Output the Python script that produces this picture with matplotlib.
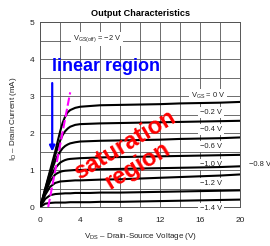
import matplotlib
matplotlib.use('Agg')
import matplotlib.pyplot as plt
from matplotlib.ticker import MultipleLocator

plt.rcParams['font.family'] = ['Liberation Sans', 'DejaVu Sans']
plt.rcParams['mathtext.fontset'] = 'custom'
plt.rcParams['mathtext.rm'] = 'Liberation Sans'

# VDS sample points (V)
vds = [0, 0.5, 1, 1.5, 1.75, 2, 2.25, 2.5, 2.75, 3, 3.5, 4, 5, 6, 8, 10, 12, 14, 16, 18, 20]

# ID (mA) for each VGS
id_0 = [0, 0.50, 1.00, 1.50, 1.78, 2.05, 2.28, 2.45, 2.56, 2.62, 2.68, 2.71, 2.73, 2.75, 2.76, 2.77, 2.78, 2.80, 2.81, 2.82, 2.84]
id_m02 = [0, 0.48, 0.95, 1.40, 1.61, 1.80, 1.95, 2.05, 2.12, 2.17, 2.22, 2.24, 2.25, 2.26, 2.27, 2.28, 2.29, 2.30, 2.31, 2.32, 2.33]
id_m04 = [0, 0.45, 0.88, 1.25, 1.39, 1.50, 1.59, 1.65, 1.69, 1.72, 1.75, 1.77, 1.78, 1.79, 1.80, 1.81, 1.82, 1.84, 1.85, 1.86, 1.88]
id_m06 = [0, 0.42, 0.80, 1.05, 1.13, 1.20, 1.24, 1.27, 1.29, 1.30, 1.31, 1.32, 1.33, 1.34, 1.35, 1.36, 1.37, 1.38, 1.39, 1.40, 1.41]
id_m08 = [0, 0.38, 0.70, 0.88, 0.92, 0.95, 0.97, 0.98, 0.985, 0.99, 1.00, 1.00, 1.01, 1.02, 1.03, 1.04, 1.05, 1.06, 1.07, 1.08, 1.10]
id_m10 = [0, 0.33, 0.55, 0.65, 0.67, 0.69, 0.695, 0.70, 0.705, 0.71, 0.72, 0.72, 0.73, 0.74, 0.75, 0.77, 0.79, 0.81, 0.83, 0.85, 0.88]
id_m12 = [0, 0.22, 0.32, 0.35, 0.355, 0.36, 0.365, 0.37, 0.37, 0.37, 0.38, 0.38, 0.38, 0.39, 0.39, 0.40, 0.41, 0.42, 0.43, 0.44, 0.45]
id_m14 = [0, 0.09, 0.11, 0.12, 0.12, 0.12, 0.12, 0.12, 0.125, 0.13, 0.13, 0.13, 0.13, 0.14, 0.14, 0.15, 0.16, 0.17, 0.18, 0.19, 0.20]
curves = [id_0, id_m02, id_m04, id_m06, id_m08, id_m10, id_m12, id_m14]

# curve labels and where they sit (VDS, ID)
label_text = ['$\\mathregular{V_{GS}}$ = 0 V', '\u22120.2 V', '\u22120.4 V', '\u22120.6 V',
              '\u22120.8 V', '\u22121.0 V', '\u22121.2 V', '\u22121.4 V']
label_x = [16.8, 17.1, 17.1, 17.1, 22.0, 17.1, 17.1, 17.1]
label_y = [3.0, 2.55, 2.09, 1.64, 1.14, 1.14, 0.64, -0.05]

# pinch-off locus
pinch_vds = [0.8, 3.0]
pinch_id = [0.0, 3.1]

fig = plt.figure(figsize=(2.7, 2.46), dpi=100)
ax = fig.add_axes([0.149, 0.1585, 0.74, 0.752])
ax.set_xlim(0, 20)
ax.set_ylim(0, 5)
ax.xaxis.set_major_locator(MultipleLocator(4))
ax.xaxis.set_minor_locator(MultipleLocator(2))
ax.yaxis.set_major_locator(MultipleLocator(1))
ax.yaxis.set_minor_locator(MultipleLocator(0.5))
ax.grid(True, which='both', color='#555555', lw=0.6)
ax.set_axisbelow(True)
ax.tick_params(which='both', length=0, labelsize=6, colors='#222222')
ax.tick_params(axis='x', pad=7)
ax.tick_params(axis='y', pad=4.5)
for s in ax.spines.values():
    s.set_color('#555555')
    s.set_linewidth(0.7)

for c in curves:
    ax.plot(vds, c, color='black', lw=1.5, zorder=4)

for t, x, y in zip(label_text, label_x, label_y):
    ax.text(x, y, t, fontsize=5.4, color='#222222', ha='center', va='center', zorder=3,
            clip_on=False, bbox=dict(boxstyle='square,pad=0.25', fc='white', ec='none'))

ax.text(5.7, 4.54, '$\\mathregular{V_{GS(off)}}$ = \u22122 V', fontsize=5.4, color='#222222',
        ha='center', va='center', zorder=3,
        bbox=dict(boxstyle='square,pad=0.25', fc='white', ec='none'))

ax.plot(pinch_vds, pinch_id, color='magenta', lw=1.5, dashes=(4, 1.5), zorder=5)

ax.annotate('', xy=(1.2, 1.5), xytext=(1.2, 3.35),
            arrowprops=dict(arrowstyle='-|>', color='blue', lw=1.6, mutation_scale=8, shrinkA=0, shrinkB=0),
            zorder=6)

ax.text(6.6, 3.8, 'linear region', fontsize=13, fontweight='bold', color='blue',
        ha='center', va='center', zorder=6)
ax.text(9.1, 1.39, 'saturation\nregion', fontsize=17, fontweight='bold', color='red',
        ha='center', va='center', rotation=31, rotation_mode='anchor', linespacing=1.05,
        multialignment='center', zorder=6)

fig.text(0.52, 0.947, 'Output Characteristics', fontsize=6.6, fontweight='bold',
         ha='center', va='center')
fig.text(14 / 270, 1 - 119 / 246, '$\\mathregular{I_D}$ \u2013 Drain Current (mA)', fontsize=5.8,
         rotation=90, ha='center', va='center', color='#222222')
fig.text(141 / 270, 1 - 237 / 246, '$\\mathregular{V_{DS}}$ \u2013 Drain-Source Voltage (V)', fontsize=5.8,
         ha='center', va='center', color='#222222')

fig.savefig('out.png', dpi=100)
